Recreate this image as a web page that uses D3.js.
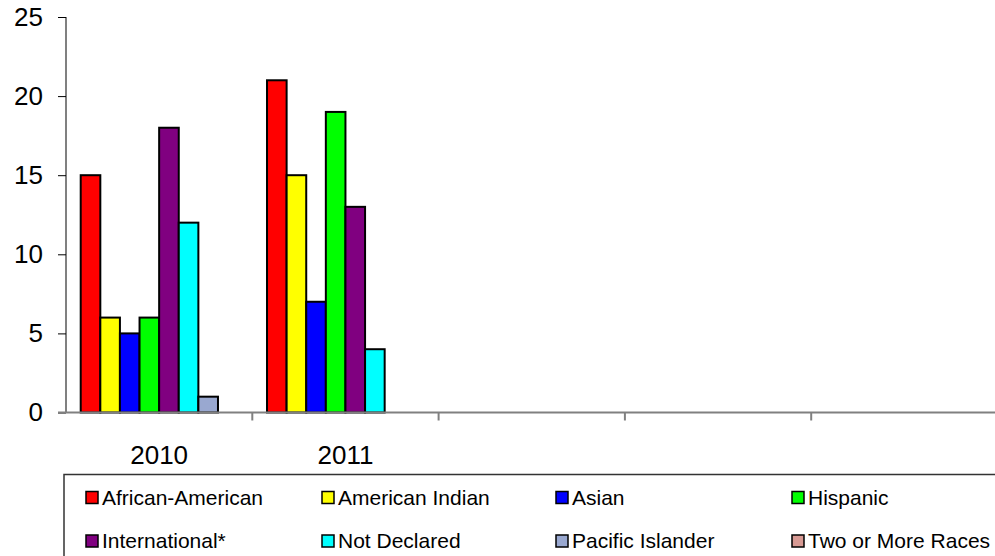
<!DOCTYPE html>
<html><head><meta charset="utf-8">
<script src="https://cdn.jsdelivr.net/npm/d3@7"></script>
<style>body{margin:0;background:#fff}svg{display:block;font-family:"Liberation Sans",Arial,sans-serif}</style>
</head><body><svg id="c" width="995" height="556"></svg>
<script>
const categories = ["2010", "2011", "", " ", "  "];
const seriesNames = ["African-American","American Indian","Asian","Hispanic","International*","Not Declared","Pacific Islander","Two or More Races"];
const seriesColors = ["#ff0000","#ffff00","#0000ff","#00ff00","#800080","#00ffff","#99a8d0","#d89a94"];
const africanAmerican = [15, 21, null, null, null];
const americanIndian = [6, 15, null, null, null];
const asian = [5, 7, null, null, null];
const hispanic = [6, 19, null, null, null];
const international = [18, 13, null, null, null];
const notDeclared = [12, 4, null, null, null];
const pacificIslander = [1, 0, null, null, null];
const twoOrMore = [0, 0, null, null, null];
const yTicks = [0, 5, 10, 15, 20, 25];

const seriesValues = [africanAmerican, americanIndian, asian, hispanic, international, notDeclared, pacificIslander, twoOrMore];

const svg = d3.select("#c");
const mLeft = 66, mRight = 997.5, mTop = 17, mBottom = 412.5;
const x = d3.scaleBand().domain(categories).range([mLeft, mRight]).paddingInner(0).paddingOuter(0);
const bwAll = x.bandwidth();
const barW = bwAll / 9.5;
const xs = d3.scaleBand().domain(seriesNames).range([barW*0.75, bwAll - barW*0.75]);
const y = d3.scaleLinear().domain([0, 25]).range([mBottom, mTop]);

// bars
seriesNames.forEach((name, si) => {
  const vals = seriesValues[si];
  svg.append("g").selectAll("rect").data(categories.map((c,i)=>({c, v: vals[i]})).filter(d => d.v != null && d.v > 0))
    .join("rect")
    .attr("x", d => x(d.c) + xs(name))
    .attr("y", d => y(d.v))
    .attr("width", xs.bandwidth())
    .attr("height", d => y(0) - y(d.v))
    .attr("fill", seriesColors[si])
    .attr("stroke", "#000")
    .attr("stroke-width", 2);
});

// y axis
const yAxis = svg.append("g").attr("transform", `translate(${mLeft},0)`)
  .call(d3.axisLeft(y).tickValues(yTicks).tickSize(8).tickPadding(15).tickFormat(d3.format("d")));
yAxis.attr("font-size", 26).attr("font-family", "Liberation Sans, Arial, sans-serif");
yAxis.select(".domain").attr("stroke", "#808080").attr("stroke-width", 2).attr("d", `M0,${mTop}V${mBottom}`);
yAxis.selectAll(".tick line").attr("stroke", "#000").attr("stroke-width", 1);
yAxis.selectAll(".tick text").attr("fill", "#000");

// x axis
const xAxis = svg.append("g").attr("transform", `translate(0,${mBottom})`)
  .call(d3.axisBottom(x).tickSize(0).tickPadding(0));
xAxis.attr("font-size", 26).attr("font-family", "Liberation Sans, Arial, sans-serif");
xAxis.select(".domain").attr("stroke", "#808080").attr("stroke-width", 2).attr("d", `M${mLeft-8},0H${mRight}`);
xAxis.selectAll(".tick text").attr("fill", "#000").attr("dy", 0).attr("y", 51);
// category boundary ticks
xAxis.selectAll(".bound").data(categories.slice(1)).join("line")
  .attr("x1", d => x(d)).attr("x2", d => x(d)).attr("y1", 0).attr("y2", 8)
  .attr("stroke", "#808080").attr("stroke-width", 2);

// legend
const lg = svg.append("g");
lg.append("rect").attr("x", 64).attr("y", 474.5).attr("width", 960).attr("height", 120)
  .attr("fill", "none").attr("stroke", "#333").attr("stroke-width", 1.5);
const colX = [86, 322, 556, 792], rowY = [497.5, 541], rowBase = [505, 548];
seriesNames.forEach((name, i) => {
  const cx = colX[i % 4], r = Math.floor(i / 4), cy = rowY[r];
  lg.append("rect").attr("x", cx).attr("y", cy - 6).attr("width", 12).attr("height", 12)
    .attr("fill", seriesColors[i]).attr("stroke", "#000").attr("stroke-width", 1.5);
  lg.append("text").attr("x", cx + 16).attr("y", rowBase[r]).attr("font-size", 21).attr("fill", "#000").text(name);
});
</script></body></html>
